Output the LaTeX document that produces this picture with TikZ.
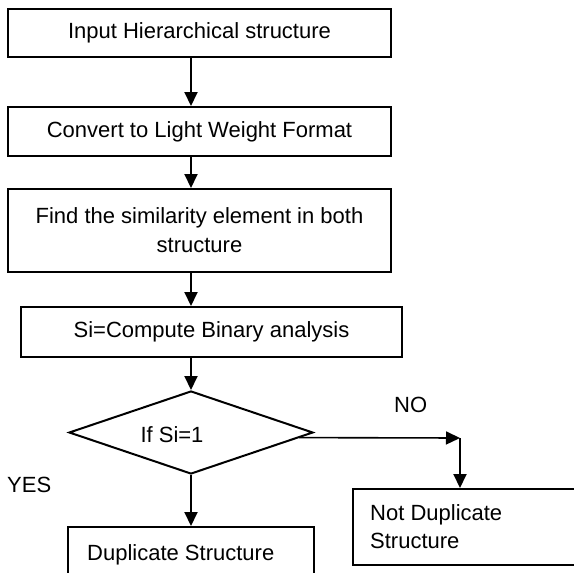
\documentclass[tikz,border=0pt]{standalone}
\usepackage{fontspec}
\setmainfont{Liberation Sans}
\usetikzlibrary{arrows.meta,shapes.geometric,calc}
\tikzset{
  stepbox/.style={draw, line width=2pt, rectangle, inner sep=0pt, align=center},
  decision/.style={draw, line width=2pt, diamond, inner sep=0pt, minimum width=244pt, minimum height=83pt},
  txt/.style={inner sep=0pt, anchor=base west},
  arr/.style={line width=2pt, -{Triangle[length=14pt,width=13pt]}},
}
\begin{document}
\begin{tikzpicture}[x=1pt,y=-1pt,font=\fontsize{22}{29}\selectfont]
\useasboundingbox (0,0) rectangle (574,573);
\clip (0,0) rectangle (574,573);
\node[stepbox, minimum width=383pt, minimum height=48pt] (b1) at (199.5,33) {Input Hierarchical structure};
\node[stepbox, minimum width=383pt, minimum height=49pt] (b2) at (199.5,131.5) {Convert to Light Weight Format};
\node[stepbox, minimum width=383pt, minimum height=83pt] (b3) at (199.5,230.5) {Find the similarity element in both\\structure};
\node[stepbox, minimum width=381pt, minimum height=50pt] (b4) at (211.5,332) {Si=Compute Binary analysis};
\node[decision] (d) at (191,432.5) {};
\node[inner sep=0pt] (dt) at (172,435) {If Si=1};
\node[stepbox, minimum width=246pt, minimum height=70pt] (dup) at (191,562) {};
\node[stepbox, minimum width=320pt, minimum height=76pt, anchor=north west] (nd) at (352,488) {};
\node[txt] (dupt) at (87,560) {Duplicate Structure};
\node[txt] (ndt1) at (370,520) {Not Duplicate};
\node[txt] (ndt2) at (370,548) {Structure};
\node[txt] (no) at (394,412) {NO};
\node[txt] (yes) at (7,492) {YES};
\coordinate (c) at (460,438);
\draw[arr] (b1.south -| d.north) -- (b2.north -| d.north);
\draw[arr] (b2.south -| d.north) -- (b3.north -| d.north);
\draw[arr] (b3.south -| d.north) -- (b4.north -| d.north);
\draw[arr] (b4.south -| d.north) -- (d.north);
\draw[arr] (d.south) -- (dup.north);
\draw[line width=1.6pt, -{Triangle[length=14pt,width=13pt]}] ($(d.east)!0.12!(d.south)$) -- (c);
\draw[arr] (c) -- (nd.north -| c);
\end{tikzpicture}
\end{document}
